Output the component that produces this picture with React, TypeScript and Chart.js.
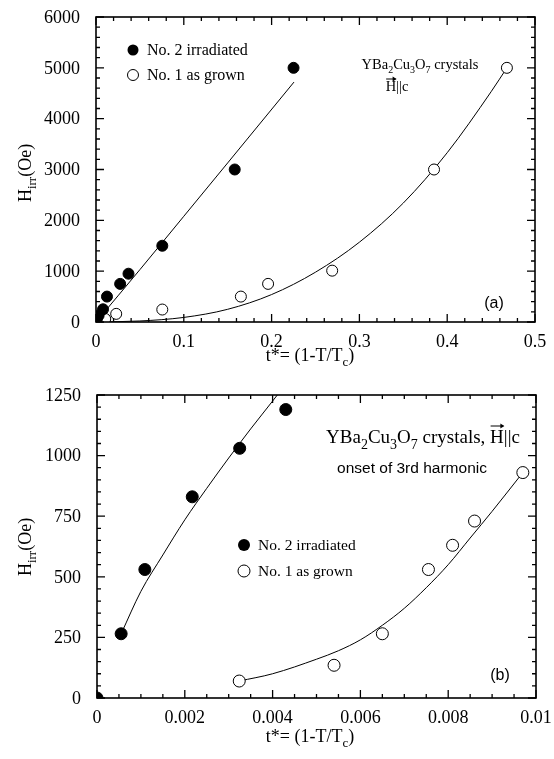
import React, { useEffect, useRef } from "react";
import { Chart, registerables } from "chart.js";
Chart.register(...registerables);

// ---------- Panel (a) data ----------
const aIrrT = [0, 0.001, 0.003, 0.008, 0.0125, 0.0275, 0.037, 0.0755, 0.158, 0.225];
const aIrrH = [0, 60, 130, 250, 500, 750, 950, 1500, 3000, 5000];
const aGrownT = [0.004, 0.0105, 0.023, 0.0755, 0.165, 0.196, 0.269, 0.385, 0.468];
const aGrownH = [20, 60, 160, 245, 500, 750, 1010, 3000, 5000];
const aIrrFitT = [0, 0.05, 0.1, 0.15, 0.2255];
const aIrrFitH = [0, 1030, 2080, 3130, 4720];
const aGrownFitT = [0, 0.05, 0.1, 0.15, 0.2, 0.25, 0.3, 0.35, 0.4, 0.45, 0.468];
const aGrownFitH = [0, 20, 90, 250, 540, 980, 1570, 2340, 3330, 4530, 5000];
const aXTicks = ["0", "0.1", "0.2", "0.3", "0.4", "0.5"];
const aYTicks = ["0", "1000", "2000", "3000", "4000", "5000", "6000"];

// ---------- Panel (b) data ----------
const bIrrT = [0, 0.00055, 0.00109, 0.00217, 0.00325, 0.0043];
const bIrrH = [0, 265, 530, 830, 1030, 1190];
const bGrownT = [0.00324, 0.0054, 0.0065, 0.00755, 0.0081, 0.0086, 0.0097];
const bGrownH = [70, 135, 265, 530, 630, 730, 930];
const bIrrFitT = [0.00055, 0.001, 0.0015, 0.002, 0.0025, 0.003, 0.0035, 0.004, 0.0043];
const bIrrFitH = [265, 440, 590, 735, 865, 990, 1110, 1225, 1295];
const bGrownFitT = [0.00324, 0.004, 0.005, 0.0055, 0.006, 0.0065, 0.007, 0.0075, 0.008, 0.0085, 0.009, 0.0097];
const bGrownFitH = [70, 100, 160, 195, 240, 300, 370, 455, 550, 660, 770, 930];
const bXTicks = ["0", "0.002", "0.004", "0.006", "0.008", "0.01"];
const bYTicks = ["0", "250", "500", "750", "1000", "1250"];

const SERIF = "'Liberation Serif', 'Times New Roman', serif";
const SANS = "'Liberation Sans', Arial, sans-serif";

type Run = { t: string; sub?: boolean };

function drawRich(ctx: CanvasRenderingContext2D, runs: Run[], x: number, y: number, size: number, family: string, align: string) {
  const sub = Math.round(size * 0.72);
  let w = 0;
  const widths: number[] = [];
  for (const r of runs) {
    ctx.font = `${r.sub ? sub : size}px ${family}`;
    const mw = ctx.measureText(r.t).width;
    widths.push(mw);
    w += mw;
  }
  let cx = align === "center" ? x - w / 2 : align === "right" ? x - w : x;
  const pos: number[] = [];
  ctx.textAlign = "left";
  ctx.textBaseline = "alphabetic";
  runs.forEach((r, i) => {
    ctx.font = `${r.sub ? sub : size}px ${family}`;
    ctx.fillText(r.t, cx, r.sub ? y + size * 0.3 : y);
    pos.push(cx);
    cx += widths[i];
  });
  pos.push(cx);
  return pos;
}

function arrowOver(ctx: CanvasRenderingContext2D, x0: number, x1: number, y: number) {
  ctx.save();
  ctx.lineWidth = 1;
  ctx.strokeStyle = "#000";
  ctx.beginPath();
  ctx.moveTo(x0 + 0.5, y);
  ctx.lineTo(x1 - 0.5, y);
  ctx.stroke();
  ctx.beginPath();
  ctx.moveTo(x1 + 0.5, y);
  ctx.lineTo(x1 - 3.5, y - 2.5);
  ctx.lineTo(x1 - 3.5, y + 2.5);
  ctx.closePath();
  ctx.fillStyle = "#000";
  ctx.fill();
  ctx.restore();
}

function legendItem(ctx: CanvasRenderingContext2D, cx: number, cy: number, filled: boolean, text: string, r: number, size: number) {
  ctx.beginPath();
  ctx.arc(cx, cy, r, 0, Math.PI * 2);
  if (filled) {
    ctx.fillStyle = "#000";
    ctx.fill();
  } else {
    ctx.fillStyle = "#fff";
    ctx.fill();
    ctx.lineWidth = 1;
    ctx.strokeStyle = "#000";
    ctx.stroke();
  }
  ctx.fillStyle = "#000";
  ctx.font = `${size}px ${SERIF}`;
  ctx.textAlign = "left";
  ctx.textBaseline = "middle";
  ctx.fillText(text, cx + 14, cy + 1);
}

function framePlugin(
  xMinor: number, yMinor: number, xLabels: string[], yLabels: string[], xStep: number, yStep: number,
  annot: (ctx: CanvasRenderingContext2D, chart: any) => void
) {
  return {
    id: "frameTicks",
    afterDraw(chart: any) {
      const ctx: CanvasRenderingContext2D = chart.ctx;
      const { left, right, top, bottom } = chart.chartArea;
      const xs = chart.scales.x;
      const ys = chart.scales.y;
      ctx.save();
      ctx.strokeStyle = "#000";
      ctx.lineWidth = 1.6;
      ctx.strokeRect(left, top, right - left, bottom - top);
      ctx.lineWidth = 1.3;
      ctx.beginPath();
      const nx = Math.round((xs.max - xs.min) / xMinor);
      const perX = Math.round(xStep / xMinor);
      for (let i = 0; i <= nx; i++) {
        const v = xs.min + i * xMinor;
        const px = xs.getPixelForValue(v);
        const len = i % perX === 0 ? 8 : 4;
        ctx.moveTo(px, bottom);
        ctx.lineTo(px, bottom - len);
        ctx.moveTo(px, top);
        ctx.lineTo(px, top + len);
      }
      const ny = Math.round((ys.max - ys.min) / yMinor);
      const perY = Math.round(yStep / yMinor);
      for (let i = 0; i <= ny; i++) {
        const v = ys.min + i * yMinor;
        const py = ys.getPixelForValue(v);
        const len = i % perY === 0 ? 8 : 4;
        ctx.moveTo(left, py);
        ctx.lineTo(left + len, py);
        ctx.moveTo(right, py);
        ctx.lineTo(right - len, py);
      }
      ctx.stroke();
      // tick labels
      ctx.fillStyle = "#000";
      ctx.font = `18px ${SERIF}`;
      ctx.textAlign = "center";
      ctx.textBaseline = "middle";
      xLabels.forEach((lab, i) => {
        ctx.fillText(lab, xs.getPixelForValue(xs.min + i * xStep), bottom + 20);
      });
      ctx.textAlign = "right";
      yLabels.forEach((lab, i) => {
        ctx.fillText(lab, left - 16, ys.getPixelForValue(ys.min + i * yStep) + 1);
      });
      annot(ctx, chart);
      ctx.restore();
    },
  };
}

function pts(t: number[], h: number[]) {
  return t.map((v, i) => ({ x: v, y: h[i] }));
}

function makeConfig(opts: any) {
  const {
    irrT, irrH, grownT, grownH, irrFitT, irrFitH, grownFitT, grownFitH,
    xMax, xStep, yMax, yStep, pad, yWidth, xHeight, radius, plugin,
  } = opts;
  const line = (t: number[], h: number[]) => ({
    data: pts(t, h),
    showLine: true,
    borderColor: "#000",
    borderWidth: 1,
    pointRadius: 0,
    cubicInterpolationMode: "monotone",
    order: 2,
  });
  return {
    type: "scatter",
    data: {
      datasets: [
        { data: pts(irrT, irrH), backgroundColor: "#000", borderColor: "#000", pointRadius: radius, borderWidth: 1, order: 1 },
        { data: pts(grownT, grownH), backgroundColor: "#fff", borderColor: "#000", pointRadius: radius, borderWidth: 1, order: 1 },
        line(irrFitT, irrFitH),
        line(grownFitT, grownFitH),
      ],
    },
    options: {
      responsive: false,
      animation: false,
      devicePixelRatio: 1,
      layout: { padding: pad },
      plugins: { legend: { display: false }, tooltip: { enabled: false } },
      scales: {
        x: {
          type: "linear",
          min: 0,
          max: xMax,
          grid: { display: false, drawTicks: false },
          border: { display: false },
          afterFit: (s: any) => {
            s.height = xHeight;
            s.paddingLeft = 0;
            s.paddingRight = 0;
          },
          ticks: { stepSize: xStep, autoSkip: false, maxRotation: 0, color: "rgba(0,0,0,0)" },
        },
        y: {
          type: "linear",
          min: 0,
          max: yMax,
          grid: { display: false, drawTicks: false },
          border: { display: false },
          afterFit: (s: any) => {
            s.width = yWidth;
            s.paddingTop = 0;
            s.paddingBottom = 0;
          },
          ticks: { stepSize: yStep, autoSkip: false, color: "rgba(0,0,0,0)" },
        },
      },
    },
    plugins: [plugin],
  };
}

function yTitle(ctx: CanvasRenderingContext2D, x: number, y: number) {
  ctx.save();
  ctx.translate(x, y);
  ctx.rotate(-Math.PI / 2);
  drawRich(ctx, [{ t: "H" }, { t: "irr", sub: true }, { t: "(Oe)" }], 0, 6, 18, SERIF, "center");
  ctx.restore();
}

function xTitle(ctx: CanvasRenderingContext2D, x: number, y: number) {
  drawRich(ctx, [{ t: "t*= (1-T/T" }, { t: "c", sub: true }, { t: ")" }], x, y, 18, SERIF, "center");
}

const annotA = (ctx: CanvasRenderingContext2D) => {
  legendItem(ctx, 133, 50, true, "No. 2 irradiated", 5.5, 16);
  legendItem(ctx, 133, 75, false, "No. 1 as grown", 5.5, 16);
  drawRich(
    ctx,
    [{ t: "YBa" }, { t: "2", sub: true }, { t: "Cu" }, { t: "3", sub: true }, { t: "O" }, { t: "7", sub: true }, { t: " crystals" }],
    420, 69, 14.5, SERIF, "center"
  );
  const p = drawRich(ctx, [{ t: "H" }, { t: "||c" }], 397, 91, 14.5, SERIF, "center");
  arrowOver(ctx, p[0], p[1], 79);
  ctx.font = `16px ${SANS}`;
  ctx.textAlign = "center";
  ctx.textBaseline = "alphabetic";
  ctx.fillText("(a)", 494, 308);
  yTitle(ctx, 25, 173);
  xTitle(ctx, 310, 361);
};

const annotB = (ctx: CanvasRenderingContext2D) => {
  legendItem(ctx, 244, 165, true, "No. 2 irradiated", 6, 15.5);
  legendItem(ctx, 244, 191, false, "No. 1 as grown", 6, 15.5);
  const p = drawRich(
    ctx,
    [{ t: "YBa" }, { t: "2", sub: true }, { t: "Cu" }, { t: "3", sub: true }, { t: "O" }, { t: "7", sub: true }, { t: " crystals, " }, { t: "H" }, { t: "||c" }],
    423, 63, 19, SERIF, "center"
  );
  arrowOver(ctx, p[7], p[8], 46);
  ctx.font = `15.5px ${SANS}`;
  ctx.textAlign = "center";
  ctx.textBaseline = "alphabetic";
  ctx.fillText("onset of 3rd harmonic", 412, 93);
  ctx.font = `16px ${SANS}`;
  ctx.fillText("(b)", 500, 300);
  yTitle(ctx, 25, 167);
  xTitle(ctx, 310, 362);
};

export default function App() {
  const refA = useRef<HTMLCanvasElement>(null);
  const refB = useRef<HTMLCanvasElement>(null);
  useEffect(() => {
    const cA = new Chart(
      refA.current as HTMLCanvasElement,
      makeConfig({
        irrT: aIrrT, irrH: aIrrH, grownT: aGrownT, grownH: aGrownH,
        irrFitT: aIrrFitT, irrFitH: aIrrFitH, grownFitT: aGrownFitT, grownFitH: aGrownFitH,
        xMax: 0.5, xStep: 0.1, yMax: 6000, yStep: 1000,
        pad: { top: 17, right: 19, left: 0, bottom: 0 }, yWidth: 96, xHeight: 58, radius: 5.5,
        plugin: framePlugin(0.02, 200, aXTicks, aYTicks, 0.1, 1000, annotA),
      }) as any
    );
    const cB = new Chart(
      refB.current as HTMLCanvasElement,
      makeConfig({
        irrT: bIrrT, irrH: bIrrH, grownT: bGrownT, grownH: bGrownH,
        irrFitT: bIrrFitT, irrFitH: bIrrFitH, grownFitT: bGrownFitT, grownFitH: bGrownFitH,
        xMax: 0.01, xStep: 0.002, yMax: 1250, yStep: 250,
        pad: { top: 15, right: 18, left: 0, bottom: 0 }, yWidth: 97, xHeight: 61, radius: 6,
        plugin: framePlugin(0.0005, 50, bXTicks, bYTicks, 0.002, 250, annotB),
      }) as any
    );
    return () => {
      cA.destroy();
      cB.destroy();
    };
  }, []);
  return (
    <div style={{ position: "absolute", left: 0, top: 0, width: 554, height: 759, background: "#fff" }}>
      <canvas ref={refA} width={554} height={380} style={{ position: "absolute", left: 0, top: 0, width: 554, height: 380 }} />
      <canvas ref={refB} width={554} height={379} style={{ position: "absolute", left: 0, top: 380, width: 554, height: 379 }} />
    </div>
  );
}
